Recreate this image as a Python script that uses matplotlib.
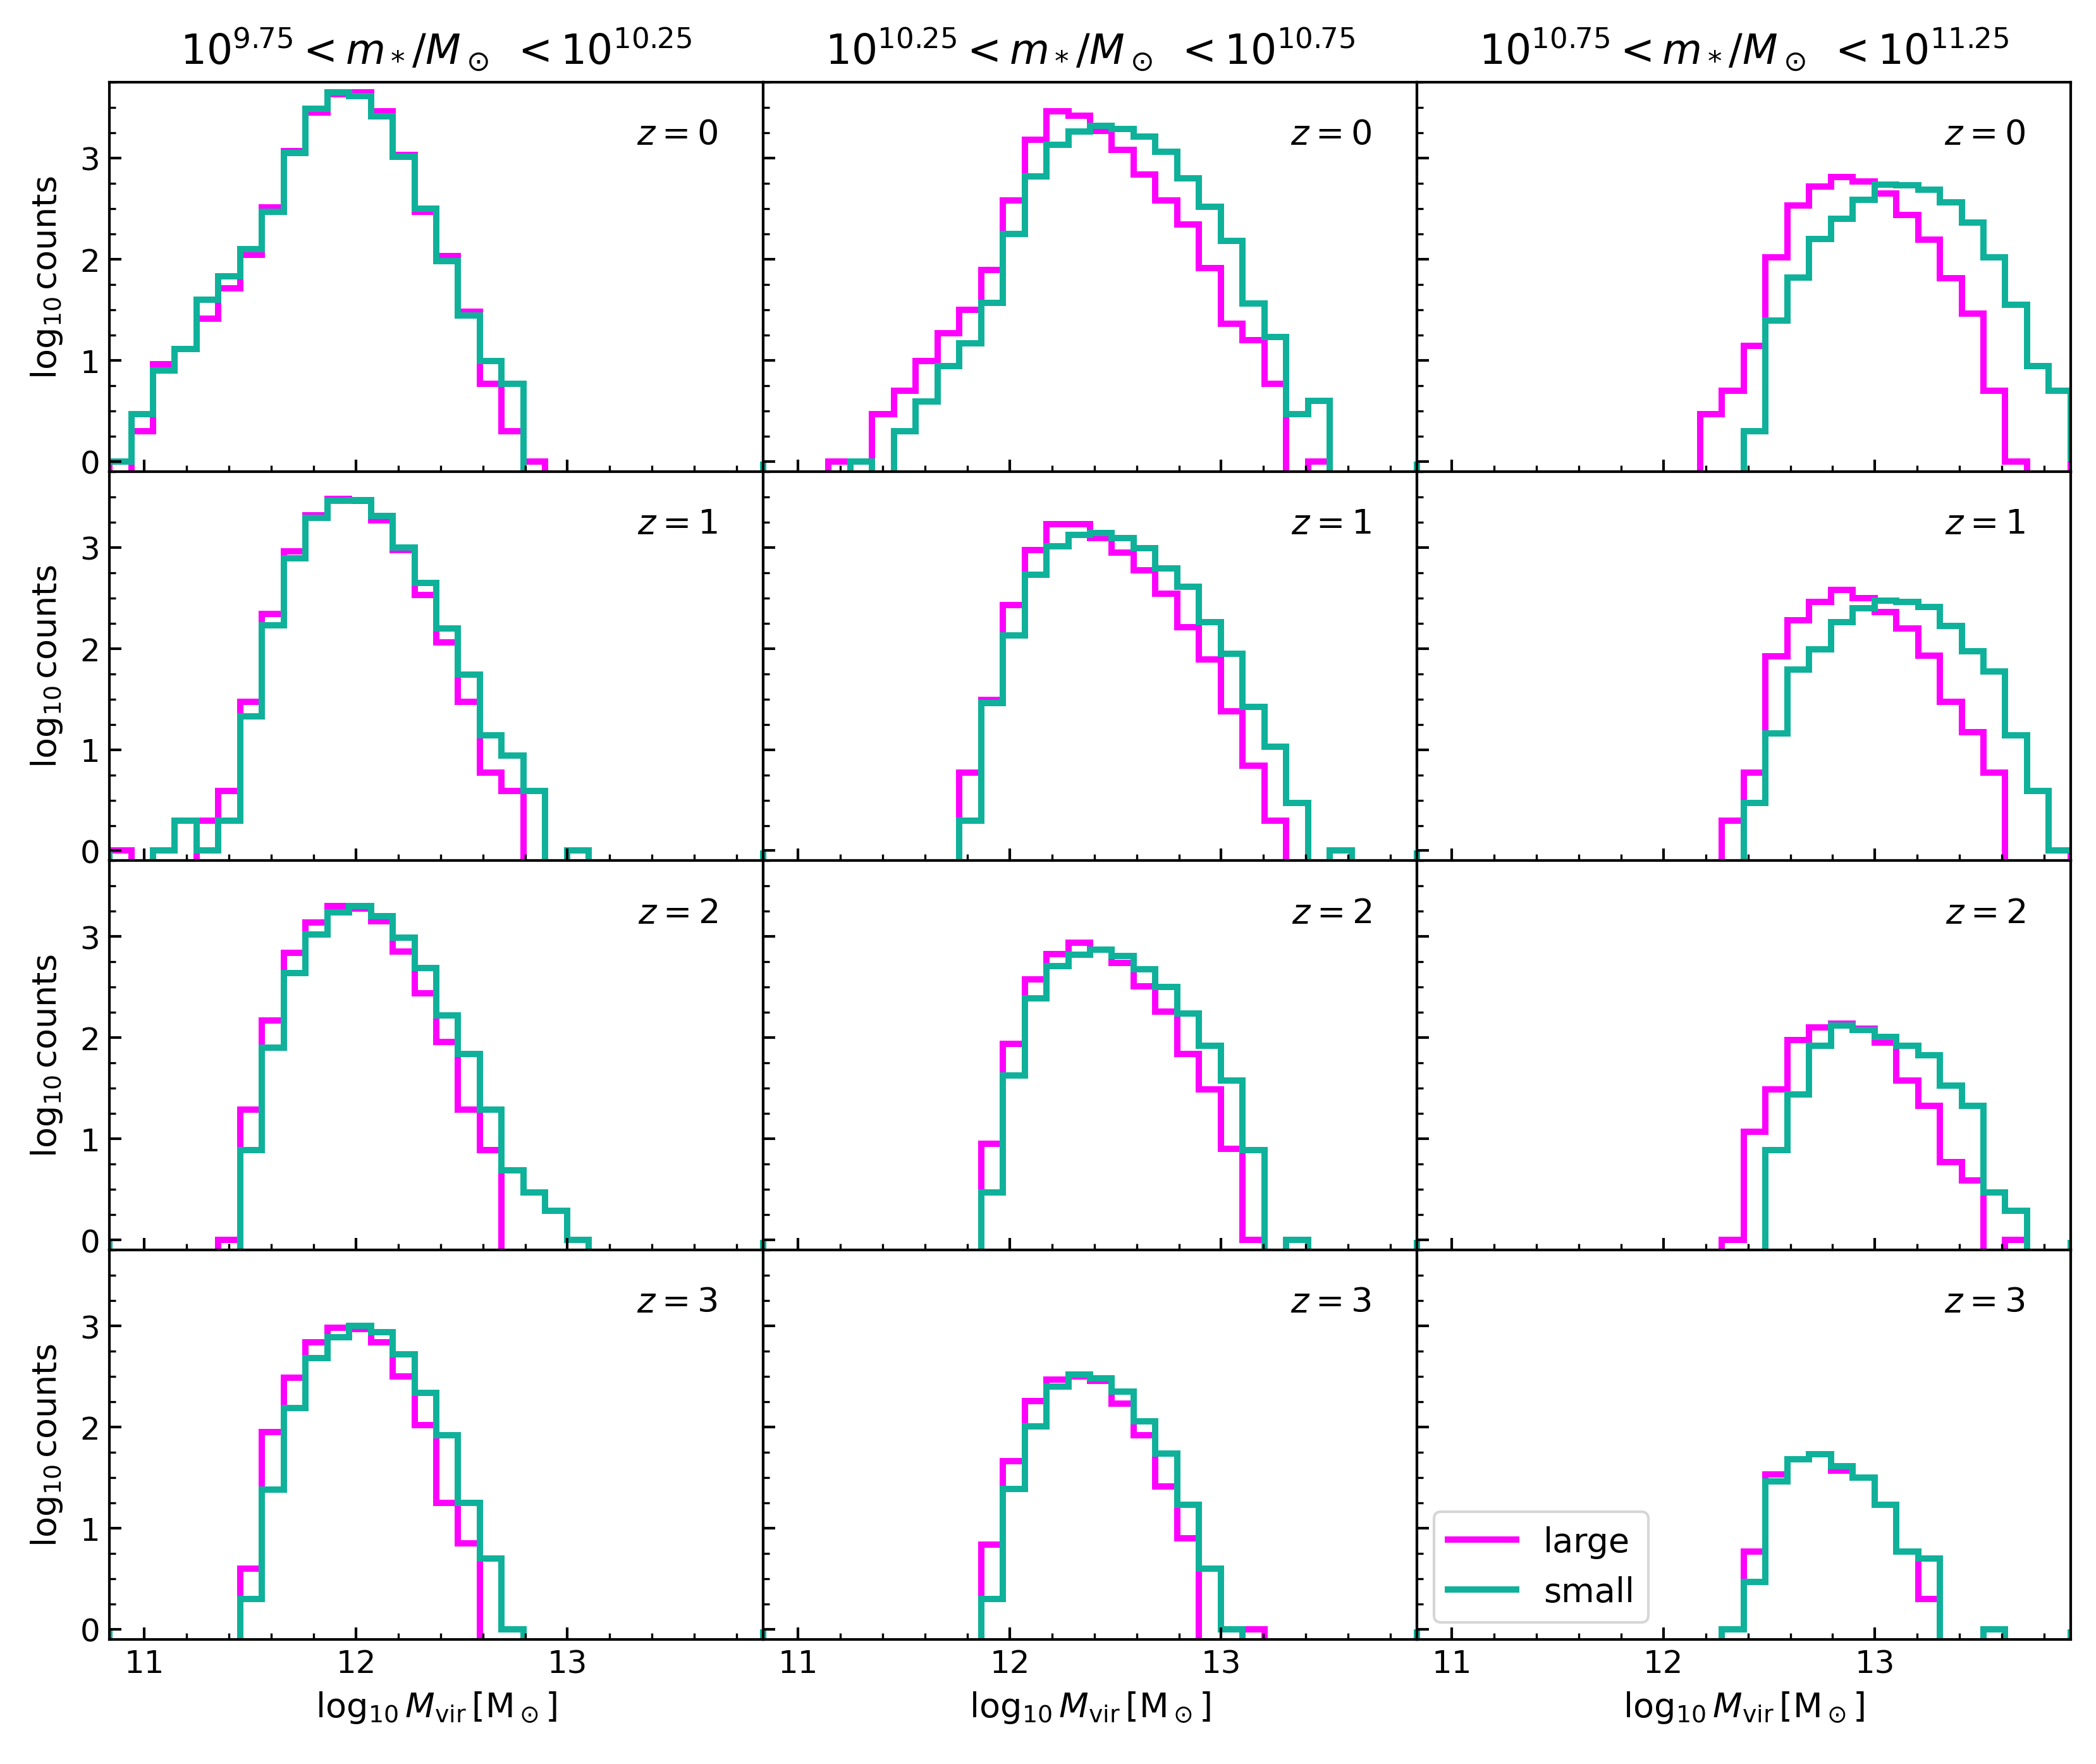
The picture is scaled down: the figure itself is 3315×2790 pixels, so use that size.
import numpy as np
import matplotlib.pyplot as plt
from matplotlib.ticker import MultipleLocator

N = None  # empty bin (log10 of zero counts)

# halo mass bins: 30 equal bins spanning the whole sample
EDGE_LO, EDGE_HI, N_BINS = 10.835, 13.925, 30
edges = np.linspace(EDGE_LO, EDGE_HI, N_BINS + 1)

redshifts = [0, 1, 2, 3]
mstar_bins = [("9.75", "10.25"), ("10.25", "10.75"), ("10.75", "11.25")]

# log10 counts per bin, [low, mid, high] stellar-mass bin
large_z0 = [
    [N, 0.30, 0.96, 1.11, 1.41, 1.71, 2.04, 2.51, 3.07, 3.45, 3.63, 3.65, 3.46, 3.03, 2.47,
     2.03, 1.48, 0.77, 0.30, 0.00, N, N, N, N, N, N, N, N, N, N],
    [N, N, N, 0.00, N, 0.47, 0.70, 0.99, 1.27, 1.50, 1.89, 2.58, 3.18, 3.46, 3.42,
     3.27, 3.08, 2.84, 2.58, 2.34, 1.91, 1.36, 1.20, 0.77, N, 0.00, N, N, N, N],
    [N, N, N, N, N, N, N, N, N, N, N, N, N, 0.47, 0.70,
     1.14, 2.02, 2.53, 2.72, 2.81, 2.77, 2.65, 2.44, 2.19, 1.81, 1.46, 0.70, 0.00, N, N],
]
small_z0 = [
    [0.00, 0.47, 0.90, 1.11, 1.60, 1.83, 2.10, 2.47, 3.05, 3.49, 3.65, 3.61, 3.41, 3.01, 2.50,
     1.98, 1.44, 0.99, 0.77, N, N, N, N, N, N, N, N, N, N, N],
    [N, N, N, N, 0.00, N, 0.30, 0.59, 0.94, 1.17, 1.57, 2.25, 2.82, 3.13, 3.26,
     3.32, 3.29, 3.21, 3.06, 2.80, 2.52, 2.18, 1.56, 1.23, 0.47, 0.60, N, N, N, N],
    [N, N, N, N, N, N, N, N, N, N, N, N, N, N, N,
     0.30, 1.39, 1.82, 2.20, 2.40, 2.59, 2.74, 2.73, 2.69, 2.56, 2.36, 2.02, 1.55, 0.94, 0.70],
]

large_z1 = [
    [0.00, N, N, N, 0.30, 0.59, 1.47, 2.34, 2.96, 3.32, 3.48, 3.46, 3.27, 2.97, 2.53,
     2.06, 1.47, 0.77, 0.59, N, N, N, N, N, N, N, N, N, N, N],
    [N, N, N, N, N, N, N, N, N, 0.77, 1.49, 2.43, 2.97, 3.23, 3.23,
     3.09, 2.95, 2.77, 2.54, 2.21, 1.89, 1.38, 0.84, 0.30, N, N, N, N, N, N],
    [N, N, N, N, N, N, N, N, N, N, N, N, N, N, 0.30,
     0.77, 1.92, 2.28, 2.46, 2.58, 2.50, 2.36, 2.20, 1.93, 1.47, 1.17, 0.77, N, N, N],
]
small_z1 = [
    [N, N, 0.00, 0.30, 0.00, 0.30, 1.33, 2.23, 2.89, 3.29, 3.46, 3.47, 3.31, 3.00, 2.65,
     2.20, 1.74, 1.14, 0.94, 0.59, N, 0.00, N, N, N, N, N, N, N, N],
    [N, N, N, N, N, N, N, N, N, 0.30, 1.46, 2.13, 2.73, 3.01, 3.12,
     3.14, 3.09, 2.99, 2.79, 2.61, 2.26, 1.95, 1.42, 1.03, 0.47, N, 0.00, N, N, N],
    [N, N, N, N, N, N, N, N, N, N, N, N, N, N, N,
     0.47, 1.16, 1.79, 1.99, 2.26, 2.40, 2.47, 2.46, 2.41, 2.22, 1.97, 1.77, 1.14, 0.59, 0.00],
]

large_z2 = [
    [N, N, N, N, N, 0.00, 1.29, 2.17, 2.84, 3.14, 3.30, 3.28, 3.15, 2.85, 2.44,
     1.96, 1.29, 0.89, N, N, N, N, N, N, N, N, N, N, N, N],
    [N, N, N, N, N, N, N, N, N, N, 0.95, 1.94, 2.58, 2.83, 2.94,
     2.87, 2.74, 2.51, 2.26, 1.84, 1.49, 0.90, 0.00, N, N, N, N, N, N, N],
    [N, N, N, N, N, N, N, N, N, N, N, N, N, N, 0.00,
     1.07, 1.49, 1.98, 2.10, 2.14, 2.09, 1.95, 1.58, 1.33, 0.77, 0.59, N, 0.00, N, N],
]
small_z2 = [
    [N, N, N, N, N, N, 0.89, 1.90, 2.64, 3.02, 3.24, 3.30, 3.20, 2.99, 2.69,
     2.22, 1.84, 1.29, 0.69, 0.47, 0.29, 0.00, N, N, N, N, N, N, N, N],
    [N, N, N, N, N, N, N, N, N, N, 0.47, 1.63, 2.39, 2.71, 2.82,
     2.87, 2.81, 2.68, 2.50, 2.24, 1.92, 1.58, 0.89, N, 0.00, N, N, N, N, N],
    [N, N, N, N, N, N, N, N, N, N, N, N, N, N, N,
     N, 0.89, 1.44, 1.92, 2.12, 2.08, 2.01, 1.92, 1.83, 1.53, 1.33, 0.47, 0.29, N, N],
]

large_z3 = [
    [N, N, N, N, N, N, 0.60, 1.95, 2.49, 2.84, 2.98, 2.97, 2.84, 2.50, 2.02,
     1.25, 0.85, N, N, N, N, N, N, N, N, N, N, N, N, N],
    [N, N, N, N, N, N, N, N, N, N, 0.84, 1.66, 2.26, 2.47, 2.50,
     2.46, 2.23, 1.92, 1.41, 0.90, N, N, 0.00, N, N, N, N, N, N, N],
    [N, N, N, N, N, N, N, N, N, N, N, N, N, N, 0.00,
     0.77, 1.53, 1.68, 1.73, 1.57, 1.50, 1.23, 0.77, 0.30, N, N, N, N, N, N],
]
small_z3 = [
    [N, N, N, N, N, N, 0.30, 1.38, 2.19, 2.68, 2.89, 3.00, 2.94, 2.72, 2.34,
     1.92, 1.25, 0.70, 0.00, N, N, N, N, N, N, N, N, N, N, N],
    [N, N, N, N, N, N, N, N, N, N, 0.30, 1.39, 2.01, 2.40, 2.52,
     2.48, 2.35, 2.06, 1.74, 1.23, 0.60, 0.00, N, N, N, N, N, N, N, N],
    [N, N, N, N, N, N, N, N, N, N, N, N, N, N, 0.00,
     0.47, 1.46, 1.68, 1.73, 1.61, 1.50, 1.23, 0.77, 0.70, N, N, 0.00, N, N, N],
]

large = [large_z0, large_z1, large_z2, large_z3]
small = [small_z0, small_z1, small_z2, small_z3]

LARGE_COLOR = "#ff00ff"
SMALL_COLOR = "#10b19a"
FLOOR = -1.0  # where log10(0) is drawn, below the visible range
FS = 13

fig, axes = plt.subplots(4, 3, figsize=(11.05, 9.303), sharex=True, sharey=True)
fig.subplots_adjust(left=0.0522, right=0.9879, top=0.9531, bottom=0.0706,
                    wspace=0, hspace=0)

for row, z in enumerate(redshifts):
    for col in range(3):
        ax = axes[row, col]
        for series, color, label in ((large, LARGE_COLOR, "large"),
                                     (small, SMALL_COLOR, "small")):
            vals = np.array(series[row][col], dtype=float)
            vals[np.isnan(vals)] = FLOOR
            ax.stairs(vals, edges, baseline=0, color=color, lw=2.4, label=label)

        ax.text(0.93, 0.842, f"$z={z}$", transform=ax.transAxes,
                ha="right", va="baseline", fontsize=FS)

        ax.set_xlim(edges[0], edges[-1])
        ax.set_ylim(-0.10, 3.75)
        ax.xaxis.set_major_locator(MultipleLocator(1))
        ax.xaxis.set_minor_locator(MultipleLocator(0.2))
        ax.yaxis.set_major_locator(MultipleLocator(1))
        ax.yaxis.set_minor_locator(MultipleLocator(0.25))
        ax.tick_params(which="both", direction="in", top=False, right=False,
                       labelsize=12)
        ax.tick_params(which="major", length=4.5, width=1.0)
        ax.tick_params(which="minor", length=2.5, width=0.8)
        for sp in ax.spines.values():
            sp.set_linewidth(1.0)

        if row == 0:
            lo, hi = mstar_bins[col]
            ax.set_title(rf"$10^{{{lo}}}<m_*/M_\odot\ <10^{{{hi}}}$",
                         fontsize=15.5, pad=7)
        if col == 0:
            ax.set_ylabel(r"$\log_{10}$counts", fontsize=FS, labelpad=6)
        if row == len(redshifts) - 1:
            ax.set_xlabel(r"$\log_{10}M_{\rm vir}\,[{\rm M}_\odot]$", fontsize=FS)

axes[-1, -1].legend(loc="lower left", fontsize=FS)

fig.savefig("out.png", dpi=300)
